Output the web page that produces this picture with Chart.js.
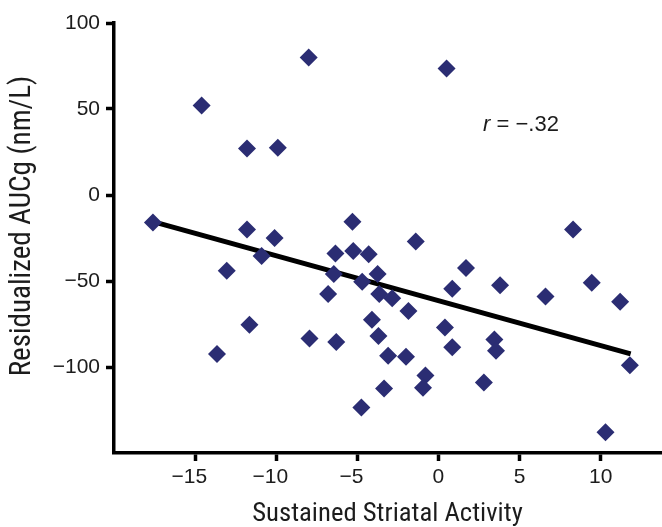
<!DOCTYPE html>
<html>
<head>
<meta charset="utf-8">
<script src="https://cdn.jsdelivr.net/npm/chart.js@4.4.1/dist/chart.umd.min.js"></script>
<style>
  html, body { margin: 0; padding: 0; background: #ffffff; }
  #wrap { width: 662px; height: 527px; position: relative; }
</style>
</head>
<body>
<div id="wrap"><canvas id="c" width="662" height="527"></canvas></div>
<script>
// ---- data ----
const activityX = [-17.6, -14.6, -11.8, -9.9, -8.0, -11.8, -10.1, -10.9, -13.05, -13.65,
  -11.65, -7.95, -6.3, -6.8, -6.45, -6.35, -5.25, -4.3, -5.3, -4.7,
  -3.75, -3.65, -2.85, -4.1, -3.7, -3.1, -3.35, -4.75, -1.85, -2.0,
  -0.8, -0.95, -1.4, 0.5, 0.4, 0.85, 0.85, 1.7, 2.8, 3.45,
  3.55, 3.8, 6.6, 8.3, 9.45, 11.2, 11.8, 10.3];
const aucgY = [-16, 52, 27, 27.5, 80, -20, -25, -35.5, -44, -92.5,
  -75.5, -83.5, -85.5, -57.5, -46, -34, -32.5, -34.5, -15.5, -50.5,
  -46, -57.5, -60, -72.5, -82, -93.5, -112.5, -123.5, -67.5, -94,
  -105, -112, -27, 73.5, -77, -88.5, -54.5, -42.5, -109, -84,
  -90.5, -52.5, -59, -20, -51, -62, -99, -138];
const fitX = [-17.6, 11.85];
const fitY = [-15.5, -92.4];
const xTicks = [-15, -10, -5, 0, 5, 10];
const yTicks = [-100, -50, 0, 50, 100];
const xTitle = 'Sustained Striatal Activity';
const yTitle = 'Residualized AUCg (nm/L)';
const corrLabel = ['r', ' = \u2212.32'];
const corrPos = [2.75, 40.7];

const TICKFONT = '"Liberation Sans", Arial, sans-serif';
const TITLEFONT = '"Roboto Condensed", "Liberation Sans Narrow", "Liberation Sans", sans-serif';
const NAVY = '#2b2d73';
const INK = '#1c1c1c';
const fmt = v => (v < 0 ? '\u2212' + Math.abs(v) : String(v));
// x labels: digits centred on the tick, minus sign hanging to the left
const fmtX = v => (v < 0 ? fmt(v) + '\u2007' : fmt(v));

const scatterPts = activityX.map((x, i) => ({ x: x, y: aucgY[i] }));
const fitPts = fitX.map((x, i) => ({ x: x, y: fitY[i] }));

const zeroPad = s => { s.paddingLeft = 0; s.paddingRight = 0; s.paddingTop = 0; s.paddingBottom = 0; };

const annot = {
  id: 'annot',
  afterDatasetsDraw(chart) {
    const ctx = chart.ctx;
    const px = chart.scales.x.getPixelForValue(corrPos[0]);
    const py = chart.scales.y.getPixelForValue(corrPos[1]);
    ctx.save();
    ctx.fillStyle = INK;
    ctx.textBaseline = 'middle';
    ctx.textAlign = 'left';
    ctx.font = 'italic 22px ' + TICKFONT;
    ctx.fillText(corrLabel[0], px, py);
    const w = ctx.measureText(corrLabel[0]).width;
    ctx.font = '22px ' + TICKFONT;
    ctx.fillText(corrLabel[1], px + w, py);
    ctx.restore();
  },
  afterDraw(chart) {
    // y-axis title, placed where the reference has it
    const ctx = chart.ctx;
    const a = chart.chartArea;
    ctx.save();
    ctx.fillStyle = INK;
    ctx.font = '29px ' + TITLEFONT;
    ctx.textAlign = 'center';
    ctx.textBaseline = 'middle';
    ctx.translate(23, (a.top + a.bottom) / 2 - 12);
    ctx.rotate(-Math.PI / 2);
    ctx.fillText(yTitle, 0, 0);
    ctx.restore();
  }
};

new Chart(document.getElementById('c'), {
  type: 'scatter',
  data: {
    datasets: [
      {
        data: fitPts,
        type: 'line',
        showLine: true,
        borderColor: '#000',
        borderWidth: 5,
        pointRadius: 0,
        fill: false,
        order: 2
      },
      {
        data: scatterPts,
        pointStyle: 'rectRot',
        pointRadius: 9,
        pointHoverRadius: 9,
        backgroundColor: NAVY,
        borderWidth: 0,
        order: 1
      }
    ]
  },
  options: {
    responsive: false,
    animation: false,
    events: [],
    layout: { autoPadding: false, padding: { top: 23, right: 1, left: 0, bottom: 0 } },
    plugins: { legend: { display: false }, tooltip: { enabled: false } },
    scales: {
      x: {
        type: 'linear',
        min: -20,
        max: 13.72,
        afterBuildTicks(s) { s.ticks = xTicks.map(v => ({ value: v })); },
        afterFit(s) { s.height = 74; zeroPad(s); },
        grid: { drawOnChartArea: false, drawTicks: true, tickLength: 8, tickWidth: 3.5, tickColor: '#000' },
        border: { display: true, color: '#000', width: 3.5 },
        ticks: { color: INK, font: { family: TICKFONT, size: 21 }, padding: 4, callback: v => fmtX(v), maxRotation: 0 },
        title: { display: true, text: xTitle, color: INK, font: { family: TITLEFONT, size: 26.7, lineHeight: 1 }, padding: { top: 2, bottom: -1 } }
      },
      y: {
        type: 'linear',
        min: -150,
        max: 100,
        afterBuildTicks(s) { s.ticks = yTicks.map(v => ({ value: v })); },
        afterFit(s) { s.width = 114; zeroPad(s); },
        grid: { drawOnChartArea: false, drawTicks: true, tickLength: 8, tickWidth: 3.5, tickColor: '#000' },
        border: { display: true, color: '#000', width: 3.5 },
        ticks: { color: INK, font: { family: TICKFONT, size: 21 }, padding: 6, callback: v => fmt(v) },
        title: { display: false }
      }
    }
  },
  plugins: [annot]
});
</script>
</body>
</html>
